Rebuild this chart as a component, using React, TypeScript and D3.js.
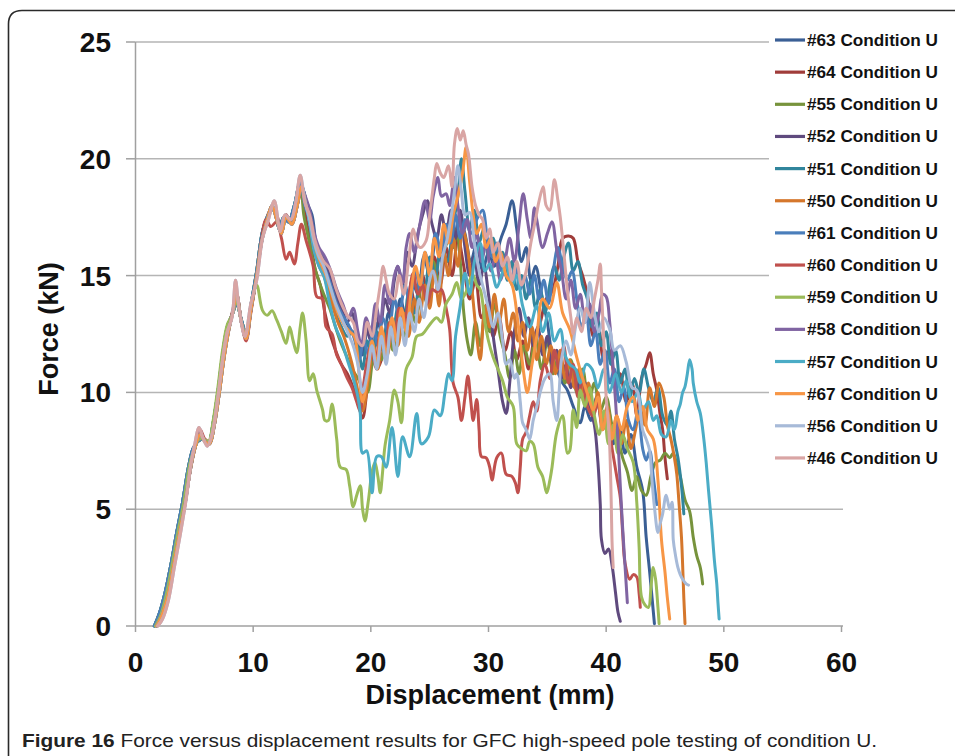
import React from 'react';
import * as d3 from 'd3';

const xTicks = [0, 10, 20, 30, 40, 50, 60];
const yTicks = [0, 5, 10, 15, 20, 25];

const seriesNames = ['#63 Condition U', '#64 Condition U', '#55 Condition U', '#52 Condition U', '#51 Condition U', '#50 Condition U', '#61 Condition U', '#60 Condition U', '#59 Condition U', '#58 Condition U', '#57 Condition U', '#67 Condition U', '#56 Condition U', '#46 Condition U'];
const seriesColors = ['#3A5F95', '#A03C3A', '#77933C', '#5F4A7E', '#31859C', '#D5772C', '#4A7EBB', '#C0504D', '#9BBB59', '#8064A2', '#4BACC6', '#F79646', '#A7BAD8', '#D9A5A4'];

const riseA = [[1.6,0],[2.0,0.5],[2.5,1.4],[3.0,2.6],[3.5,4.0],[4.0,5.3],[4.5,6.8],[4.9,7.6],[5.3,7.9],[5.8,8.0],[6.2,7.8],[6.6,8.7],[7.0,10.0],[7.4,11.6],[7.8,12.8],[8.2,13.3],[8.6,13.8],[9.0,13.1],[9.4,12.5],[9.8,13.7],[10.3,15.2],[10.8,16.9],[11.3,17.6],[11.8,17.9],[12.2,17.0],[12.6,17.5],[13.0,17.3],[13.5,18.0],[14.0,19.0]];
const riseB = [[1.9,0],[2.3,0.3],[2.8,1.1],[3.3,2.5],[3.8,3.9],[4.3,5.4],[4.7,6.9],[5.0,7.7],[5.4,8.5],[5.7,8.1],[6.1,7.7],[6.5,8.2],[7.0,9.8],[7.4,11.4],[7.8,12.6],[8.2,13.2],[8.5,14.8],[8.8,13.6],[9.3,12.4],[9.8,13.8],[10.3,14.8],[10.8,16.6],[11.3,17.4],[11.8,18.2],[12.3,16.9],[12.7,17.6],[13.2,17.4],[13.6,18.1],[14.0,19.3]];
const riseC = [[1.8,0],[2.2,0.4],[2.7,1.2],[3.2,2.5],[3.7,3.9],[4.2,5.2],[4.7,6.8],[5.1,7.7],[5.5,8.2],[5.9,7.9],[6.3,7.8],[6.7,8.6],[7.1,9.9],[7.5,11.4],[7.9,12.6],[8.3,13.5],[8.6,14.2],[9.0,13.0],[9.4,12.3],[9.8,13.5],[10.3,15.0],[10.7,16.4],[11.2,17.4],[11.6,18.0],[12.0,17.4],[12.4,16.8],[12.8,17.5],[13.3,17.2],[13.7,17.9],[14.1,18.8]];

const s63 = [...riseA, [14.5,18.2],[15.0,17.6],[15.4,16.3],[15.9,15.8],[16.4,15.1],[16.9,14.1],[17.4,13.5],[17.9,13.0],[18.4,12.6],[18.9,12.2],[19.3,11.6],[19.7,12.6],[20.2,12.0],[20.6,13.0],[21.1,12.2],[21.5,13.4],[22.0,12.6],[22.5,14.0],[23.0,13.2],[23.5,14.8],[24.0,14.2],[24.5,15.8],[25.0,15.0],[25.5,16.5],[26.0,15.6],[26.5,17.0],[27.0,16.2],[27.5,17.5],[28.0,16.8],[28.5,15.6],[29.0,16.4],[29.5,15.2],[30.0,16.0],[30.5,15.4],[31.0,16.5],[31.5,17.2],[32.0,18.2],[32.4,17.0],[32.8,15.6],[33.2,16.2],[33.6,14.8],[34.0,15.4],[34.5,14.2],[35.0,13.0],[35.4,11.6],[35.8,11.0],[36.3,10.4],[36.7,10.1],[37.2,9.4],[37.8,8.7],[38.2,9.4],[38.7,8.8],[39.2,9.8],[39.7,8.6],[40.2,9.2],[40.6,7.8],[41.1,8.6],[41.6,7.4],[42.1,8.2],[42.6,6.8],[43.1,5.8],[43.4,3.8],[43.7,2.3],[43.9,1.2],[44.1,0.1]];
const s64 = [[1.8,0],[2.2,0.4],[2.7,1.2],[3.2,2.5],[3.7,3.9],[4.2,5.2],[4.7,6.8],[5.1,7.7],[5.5,8.3],[5.9,7.9],[6.3,7.9],[6.7,8.9],[7.1,10.1],[7.5,11.5],[7.9,12.7],[8.3,13.6],[8.6,14.2],[9.0,13.0],[9.4,12.3],[9.8,13.5],[10.3,15.0],[10.7,16.4],[11.1,17.4],[11.6,17.9],[12.0,17.6],[12.4,17.0],[12.8,17.6],[13.3,17.2],[13.7,17.9],[14.1,18.6],[14.5,17.4],[14.9,16.4],[15.3,15.2],[15.7,14.6],[16.1,13.4],[16.6,12.4],[17.0,11.8],[17.5,11.2],[18.0,10.8],[18.5,10.2],[18.9,9.6],[19.3,8.9],[19.7,10.2],[20.1,11.6],[20.5,11.0],[20.9,11.4],[21.4,12.8],[21.9,12.0],[22.4,13.6],[22.9,12.8],[23.4,14.4],[23.9,13.4],[24.4,15.0],[24.9,14.0],[25.4,15.8],[25.9,14.6],[26.4,16.2],[26.9,15.0],[27.4,16.6],[27.9,15.4],[28.4,14.0],[28.9,14.8],[29.4,13.2],[29.9,13.8],[30.4,12.4],[30.9,13.2],[31.4,11.8],[31.9,12.6],[32.4,11.4],[32.9,12.2],[33.4,11.0],[33.9,12.4],[34.4,13.0],[34.9,14.0],[35.4,14.3],[35.9,15.4],[36.3,16.6],[36.8,16.7],[37.2,16.6],[37.6,15.6],[38.0,15.0],[38.4,14.2],[38.9,12.4],[39.3,13.0],[39.8,11.4],[40.3,11.8],[40.8,10.2],[41.2,10.8],[41.7,9.6],[42.2,10.4],[42.6,9.0],[43.0,10.6],[43.4,11.2],[43.7,11.7],[44.0,10.8],[44.3,10.1],[44.6,9.0],[44.8,8.4],[45.0,7.2],[45.2,6.3]];
const s55 = [...riseA, [14.3,17.6],[14.7,16.6],[15.1,15.6],[15.5,14.9],[16.0,14.2],[16.5,13.6],[17.0,12.8],[17.4,12.2],[17.9,11.6],[18.4,11.0],[18.9,10.6],[19.3,10.2],[19.7,10.0],[20.1,11.2],[20.5,12.2],[20.9,11.4],[21.4,12.6],[21.9,11.8],[22.3,13.2],[22.8,12.4],[23.3,13.8],[23.8,13.0],[24.3,14.6],[24.8,13.8],[25.3,15.6],[25.8,14.8],[26.3,16.2],[26.7,16.5],[27.0,16.2],[27.3,17.0],[27.6,15.6],[27.9,13.4],[28.2,12.2],[28.5,11.6],[28.9,13.0],[29.3,12.0],[29.7,13.4],[30.1,12.6],[30.5,13.8],[31.0,12.4],[31.4,11.6],[31.8,10.6],[32.2,11.8],[32.6,10.8],[33.0,12.0],[33.5,11.2],[34.0,12.4],[34.5,11.0],[35.0,12.2],[35.5,10.8],[36.0,11.6],[36.5,10.4],[37.0,11.4],[37.5,10.0],[38.0,11.0],[38.5,9.6],[39.0,10.4],[39.5,9.2],[40.0,9.8],[40.5,8.6],[41.0,8.0],[41.4,7.2],[41.8,6.6],[42.2,5.8],[42.6,6.4],[43.0,5.8],[43.4,5.6],[43.8,6.4],[44.2,7.0],[44.6,7.1],[45.0,7.4],[45.4,7.2],[45.7,7.4],[46.0,6.9],[46.3,6.4],[46.7,5.4],[47.1,4.9],[47.4,3.8],[47.7,3.0],[48.0,2.5],[48.2,1.8]];
const s52 = [...riseC, [14.5,18.2],[14.8,17.6],[15.2,16.6],[15.6,16.0],[16.0,15.6],[16.5,15.0],[17.0,14.2],[17.5,13.6],[18.0,13.0],[18.4,13.4],[18.8,12.4],[19.2,11.8],[19.6,12.8],[20.0,12.2],[20.4,13.4],[20.8,12.8],[21.2,14.0],[21.6,13.4],[22.0,14.8],[22.3,15.4],[22.7,14.6],[23.1,16.0],[23.5,15.4],[24.0,16.8],[24.4,17.6],[24.8,18.2],[25.2,17.2],[25.6,16.6],[26.0,17.6],[26.4,16.8],[26.8,17.8],[27.2,16.6],[27.6,17.8],[28.0,16.2],[28.4,15.0],[28.8,15.8],[29.2,14.6],[29.6,15.4],[30.0,14.2],[30.4,12.4],[30.8,11.0],[31.2,9.6],[31.5,9.1],[31.8,10.4],[32.2,12.6],[32.6,13.6],[33.0,12.4],[33.4,13.2],[33.8,12.0],[34.2,12.8],[34.6,11.6],[35.0,12.4],[35.4,11.2],[35.8,11.8],[36.2,10.6],[36.6,11.2],[37.0,10.2],[37.4,10.8],[37.8,9.8],[38.2,10.4],[38.6,9.4],[39.0,8.6],[39.3,7.0],[39.5,5.2],[39.6,3.7],[39.9,3.1],[40.2,3.3],[40.5,2.6],[40.8,1.4],[41.0,0.6],[41.2,0.2]];
const s51 = [...riseA, [14.4,18.4],[14.8,17.6],[15.2,16.2],[15.6,15.4],[16.0,15.0],[16.5,14.2],[17.0,13.4],[17.5,12.8],[18.0,12.4],[18.5,12.6],[18.9,12.0],[19.3,11.0],[19.7,12.2],[20.1,11.4],[20.5,12.6],[21.0,11.8],[21.4,13.0],[21.8,12.2],[22.3,13.6],[22.8,12.8],[23.2,14.2],[23.7,13.4],[24.2,15.0],[24.6,14.2],[25.0,15.8],[25.5,15.0],[26.0,16.4],[26.5,15.6],[27.0,17.2],[27.4,18.4],[27.7,20.0],[28.0,18.6],[28.4,17.0],[28.8,17.8],[29.2,16.4],[29.6,17.0],[30.0,15.8],[30.4,16.6],[30.8,15.4],[31.2,16.0],[31.6,14.8],[32.0,15.6],[32.4,14.4],[32.8,15.0],[33.2,14.0],[33.6,14.8],[34.0,13.6],[34.4,14.4],[34.8,13.4],[35.2,14.6],[35.6,15.4],[36.0,14.8],[36.4,15.8],[36.8,16.4],[37.2,15.2],[37.6,15.6],[38.0,14.6],[38.4,14.0],[38.8,12.8],[39.2,13.4],[39.6,12.0],[40.0,12.6],[40.4,11.2],[40.8,11.8],[41.2,10.4],[41.6,11.0],[42.0,9.8],[42.4,10.6],[42.8,10.0],[43.2,11.0],[43.6,10.2],[44.0,9.6],[44.4,10.2],[44.8,9.0],[45.2,8.6],[45.5,9.2],[45.8,8.0],[46.1,7.2],[46.4,6.0],[46.6,4.8]];
const s50 = [...riseC, [14.5,18.0],[14.9,17.2],[15.3,16.0],[15.7,15.4],[16.2,14.8],[16.7,13.8],[17.2,13.0],[17.7,12.4],[18.2,11.6],[18.6,10.8],[19.0,9.8],[19.3,9.2],[19.8,10.6],[20.2,12.0],[20.6,11.0],[21.0,12.6],[21.4,11.6],[21.9,13.0],[22.3,12.0],[22.8,13.4],[23.2,12.4],[23.7,14.0],[24.1,13.0],[24.6,14.6],[25.0,13.6],[25.4,15.2],[25.8,13.7],[26.2,16.0],[26.6,15.0],[27.0,16.6],[27.4,15.4],[27.8,17.0],[28.2,16.2],[28.6,14.4],[29.0,12.4],[29.3,11.4],[29.7,13.7],[30.1,12.8],[30.5,14.2],[30.9,13.0],[31.3,14.0],[31.7,12.6],[32.1,13.4],[32.5,12.2],[32.9,13.0],[33.3,11.8],[33.7,12.8],[34.1,11.4],[34.5,12.4],[34.9,11.2],[35.3,12.0],[35.7,10.8],[36.1,11.8],[36.5,10.6],[36.9,11.4],[37.3,10.2],[37.7,11.0],[38.1,9.6],[38.5,10.4],[38.9,9.0],[39.3,10.0],[39.7,8.6],[40.1,9.4],[40.5,8.2],[40.9,9.0],[41.3,7.8],[41.7,8.8],[42.1,7.6],[42.5,8.4],[42.9,9.4],[43.3,8.6],[43.7,10.2],[44.1,9.4],[44.5,10.4],[44.9,9.8],[45.2,8.6],[45.5,8.0],[45.8,7.2],[46.0,6.5],[46.2,5.2],[46.4,3.8],[46.5,2.6],[46.6,1.2],[46.7,0.1]];
const s61 = [...riseA, [14.4,18.0],[14.8,17.4],[15.2,16.4],[15.7,15.7],[16.1,15.3],[16.6,14.6],[17.1,13.8],[17.6,13.3],[18.1,12.9],[18.6,12.3],[19.0,11.4],[19.4,12.2],[19.8,11.6],[20.2,12.8],[20.6,12.0],[21.0,13.2],[21.5,12.6],[22.0,14.0],[22.4,13.2],[22.9,14.6],[23.3,13.8],[23.8,15.2],[24.2,14.4],[24.6,16.0],[25.0,15.2],[25.5,16.8],[26.0,16.0],[26.4,17.2],[26.8,16.4],[27.2,17.6],[27.6,16.6],[28.0,17.4],[28.5,16.8],[29.0,17.4],[29.5,17.8],[29.9,16.6],[30.3,15.8],[30.7,16.4],[31.1,15.2],[31.5,15.8],[31.9,14.8],[32.3,15.4],[32.7,14.4],[33.1,15.0],[33.5,14.2],[33.9,15.0],[34.3,14.0],[34.7,14.8],[35.1,13.8],[35.5,15.2],[35.9,16.2],[36.3,15.4],[36.7,14.8],[37.1,15.2],[37.5,14.0],[37.9,12.8],[38.3,13.4],[38.7,12.0],[39.1,12.6],[39.5,11.2],[39.9,11.8],[40.3,10.4],[40.7,11.0],[41.1,9.6],[41.5,10.2],[41.9,8.8],[42.3,8.4],[42.7,9.2],[43.1,7.6],[43.4,7.1],[43.7,7.5],[44.0,6.4],[44.3,5.2]];
const s60 = [[1.8,0],[2.2,0.4],[2.7,1.2],[3.2,2.6],[3.7,4.0],[4.2,5.3],[4.7,6.9],[5.1,7.8],[5.5,8.4],[5.9,8.0],[6.3,7.9],[6.7,8.8],[7.1,10.1],[7.5,11.6],[7.9,12.8],[8.3,13.5],[8.6,14.1],[9.0,13.0],[9.4,12.2],[9.8,13.4],[10.3,15.0],[10.7,16.5],[11.1,17.4],[11.5,17.1],[12.0,17.3],[12.4,16.6],[12.8,15.7],[13.1,16.0],[13.5,15.5],[13.8,16.4],[14.1,17.2],[14.5,16.5],[15.1,15.4],[15.4,14.1],[15.9,14.0],[16.2,12.8],[16.7,12.5],[17.1,11.6],[17.5,11.2],[18.0,10.6],[18.4,10.2],[18.8,9.6],[19.1,9.2],[19.4,10.4],[19.7,11.4],[20.0,12.0],[20.4,11.2],[20.8,12.6],[21.2,11.8],[21.6,13.0],[22.0,12.4],[22.4,13.6],[22.8,12.8],[23.2,14.0],[23.6,15.1],[24.0,14.2],[24.4,14.6],[24.8,13.8],[25.2,14.4],[25.6,14.3],[26.0,14.4],[26.4,13.6],[26.7,12.7],[27.0,10.4],[27.4,9.8],[27.7,8.8],[28.0,9.8],[28.25,10.7],[28.5,9.6],[28.7,8.8],[29.0,9.7],[29.2,8.4],[29.4,7.25],[29.8,7.2],[30.1,6.8],[30.3,6.25],[30.7,7.2],[31.1,7.4],[31.5,6.5],[32.0,6.4],[32.3,6.1],[32.5,5.7],[32.7,6.8],[32.9,8.0],[33.2,8.3],[33.5,9.0],[33.8,9.6],[34.1,9.2],[34.4,10.5],[34.8,11.2],[35.2,10.6],[35.6,11.8],[36.0,11.0],[36.4,12.0],[36.8,10.4],[37.2,11.2],[37.6,9.8],[38.0,10.6],[38.4,9.4],[38.9,9.0],[39.3,9.6],[39.7,8.4],[40.1,8.8],[40.5,7.6],[40.9,6.4],[41.2,5.5],[41.4,4.0],[41.6,2.7],[42.0,2.0],[42.3,2.2],[42.6,2.1],[42.8,1.4],[42.9,0.8]];
const s59 = [[1.7,0],[2.1,0.4],[2.6,1.3],[3.1,2.6],[3.6,4.0],[4.1,5.3],[4.6,6.9],[5.0,7.6],[5.4,8.0],[5.8,8.0],[6.2,7.9],[6.6,8.8],[7.0,10.2],[7.4,11.8],[7.8,12.9],[8.2,13.3],[8.6,13.9],[9.0,13.0],[9.4,12.4],[9.8,13.6],[10.3,14.6],[10.8,13.5],[11.2,13.3],[11.6,13.5],[12.0,13.1],[12.4,12.6],[12.8,12.1],[13.1,12.8],[13.4,12.2],[13.7,11.7],[14.0,12.8],[14.2,13.4],[14.5,12.2],[14.8,10.5],[15.1,10.8],[15.4,10.1],[15.9,9.25],[16.1,8.8],[16.4,8.8],[16.7,9.5],[17.1,8.0],[17.4,6.8],[17.9,6.7],[18.2,6.0],[18.5,5.1],[18.8,5.6],[19.1,6.0],[19.3,5.0],[19.5,4.5],[19.8,5.4],[20.1,6.6],[20.35,7.0],[20.6,6.4],[20.8,5.7],[21.0,6.6],[21.2,7.7],[21.6,8.8],[22.0,10.1],[22.3,9.6],[22.6,8.7],[23.0,11.0],[23.5,11.5],[23.9,12.4],[24.4,12.5],[25.0,12.9],[25.6,13.2],[26.0,13.0],[26.4,13.8],[26.9,14.2],[27.3,14.7],[27.7,14.0],[28.1,14.3],[28.4,14.8],[28.7,15.0],[29.0,14.6],[29.3,14.4],[29.7,13.0],[30.0,12.2],[30.4,11.5],[30.8,11.0],[31.2,10.5],[31.6,9.8],[32.1,9.4],[32.4,7.8],[32.8,7.6],[33.2,7.5],[33.5,7.9],[33.8,7.8],[34.2,6.8],[34.6,6.4],[34.95,5.7],[35.2,6.2],[35.4,6.8],[35.8,8.3],[36.3,9.0],[36.7,7.4],[36.9,7.5],[37.2,9.25],[37.5,8.5],[37.8,10.1],[38.2,9.4],[38.6,10.2],[39.0,9.0],[39.4,8.2],[39.8,9.2],[40.2,7.8],[40.6,8.6],[41.0,7.4],[41.4,8.2],[41.8,7.6],[42.3,7.0],[42.6,5.3],[42.8,3.4],[43.0,1.25],[43.3,0.9],[43.6,0.8],[43.8,1.6],[44.0,2.5],[44.2,2.0],[44.4,0.8],[44.5,0.1]];
const s58 = [...riseC, [14.5,18.3],[14.8,17.8],[15.2,16.8],[15.6,16.2],[16.1,15.8],[16.6,15.2],[17.1,14.4],[17.6,13.8],[18.1,13.2],[18.5,13.6],[18.9,12.6],[19.2,12.0],[19.6,13.2],[20.0,12.6],[20.4,13.8],[20.8,13.0],[21.2,14.6],[21.6,13.8],[22.0,15.0],[22.3,15.4],[22.7,14.7],[23.0,16.2],[23.3,16.8],[23.7,16.0],[24.1,17.0],[24.6,18.2],[25.0,17.4],[25.3,18.4],[25.7,19.2],[26.0,18.4],[26.4,18.5],[26.7,18.0],[27.1,19.2],[27.4,18.0],[27.8,16.8],[28.2,17.4],[28.6,16.2],[29.0,16.8],[29.4,15.6],[29.8,16.4],[30.2,15.2],[30.6,15.8],[31.0,14.8],[31.4,15.6],[31.8,16.6],[32.2,15.6],[32.6,17.2],[32.95,18.5],[33.3,17.4],[33.6,16.6],[33.9,17.9],[34.1,17.4],[34.6,16.2],[35.0,16.8],[35.4,17.3],[35.8,16.1],[36.2,15.2],[36.6,14.0],[37.0,14.8],[37.4,13.6],[37.8,14.2],[38.2,13.0],[38.6,13.8],[39.0,12.6],[39.4,13.4],[39.7,14.2],[40.0,14.1],[40.3,13.0],[40.6,11.0],[40.8,9.6],[41.0,8.0],[41.2,6.0],[41.4,4.2],[41.6,2.6],[41.8,1.0]];
const s57 = [...riseC, [14.5,18.0],[14.8,17.2],[15.2,16.0],[15.6,15.4],[16.0,15.0],[16.5,13.8],[17.0,12.8],[17.5,12.2],[18.0,11.4],[18.5,10.6],[18.9,9.8],[19.1,9.1],[19.3,7.4],[19.65,7.5],[20.1,5.7],[20.5,7.25],[20.9,7.25],[21.3,6.8],[21.8,8.5],[22.3,6.4],[22.7,8.1],[23.3,7.25],[23.9,9.1],[24.3,7.8],[24.9,8.1],[25.4,9.25],[25.9,9.0],[26.3,10.0],[26.6,10.8],[26.9,10.5],[27.2,12.4],[27.6,13.7],[28.0,15.1],[28.4,14.2],[28.8,15.6],[29.3,16.4],[29.7,15.2],[30.1,15.5],[30.7,14.5],[31.1,15.0],[31.5,15.5],[32.0,14.6],[32.4,15.0],[32.9,13.7],[33.5,12.8],[34.1,13.7],[34.6,12.6],[35.1,13.4],[35.6,12.2],[36.1,12.7],[36.5,11.6],[36.9,11.2],[37.4,11.0],[37.8,10.4],[38.3,11.2],[38.8,11.0],[39.3,10.2],[39.8,11.0],[40.3,10.0],[40.8,10.8],[41.3,10.0],[41.7,10.5],[42.2,9.6],[42.7,10.0],[43.1,9.25],[43.6,9.6],[44.0,8.8],[44.3,9.0],[44.7,8.2],[45.1,8.1],[45.5,8.8],[45.8,8.4],[46.1,9.2],[46.3,9.5],[46.5,10.0],[46.7,10.25],[46.9,10.8],[47.1,11.4],[47.3,11.0],[47.4,10.4],[47.7,9.6],[48.0,9.1],[48.3,8.0],[48.5,7.0],[48.7,5.8],[48.95,4.4],[49.2,2.8],[49.4,1.8],[49.5,1.0],[49.6,0.3]];
const s67 = [...riseC, [14.5,18.0],[14.9,17.3],[15.3,16.2],[15.7,15.6],[16.2,15.0],[16.7,14.2],[17.2,13.4],[17.7,12.9],[18.2,12.6],[18.6,12.4],[19.0,10.8],[19.3,9.6],[19.7,10.6],[20.1,12.2],[20.5,11.2],[20.9,12.8],[21.3,11.6],[21.8,13.2],[22.2,12.2],[22.6,13.6],[23.0,12.6],[23.4,14.2],[23.8,15.4],[24.2,14.6],[24.6,16.0],[25.0,15.0],[25.4,16.6],[25.8,15.8],[26.2,17.2],[26.6,16.4],[27.0,17.6],[27.4,18.4],[27.8,19.4],[28.1,20.5],[28.4,19.0],[28.7,17.6],[29.0,16.8],[29.4,17.2],[29.8,16.2],[30.2,16.6],[30.6,15.6],[31.0,16.0],[31.5,15.0],[32.0,14.6],[32.5,13.0],[33.0,10.8],[33.3,10.0],[33.7,11.2],[34.1,12.4],[34.6,14.0],[35.2,13.6],[35.8,14.7],[36.3,13.4],[36.9,12.7],[37.5,11.5],[38.0,10.6],[38.5,9.8],[38.9,9.25],[39.3,9.8],[39.7,8.4],[40.1,9.2],[40.5,8.0],[40.9,9.0],[41.3,8.4],[41.8,9.4],[42.3,9.8],[42.7,8.8],[43.1,9.4],[43.5,8.4],[44.0,8.0],[44.4,6.25],[44.7,3.7],[45.0,2.3],[45.2,1.2],[45.4,0.3]];
const s56 = [...riseB, [14.4,18.2],[14.8,17.4],[15.2,16.4],[15.6,15.8],[16.0,15.4],[16.5,14.6],[17.0,13.8],[17.5,13.2],[18.0,12.6],[18.5,12.0],[18.9,11.2],[19.3,10.0],[19.7,10.8],[20.1,12.0],[20.5,11.0],[20.9,12.4],[21.3,11.2],[21.7,12.8],[22.1,11.6],[22.5,13.2],[22.9,12.0],[23.3,13.4],[23.7,12.6],[24.1,14.0],[24.5,13.2],[24.9,14.6],[25.3,15.2],[25.7,14.4],[26.1,15.8],[26.5,16.6],[26.9,17.8],[27.2,19.0],[27.4,19.7],[27.7,18.6],[28.0,17.6],[28.4,17.7],[28.8,16.4],[29.2,15.2],[29.6,14.4],[30.0,13.6],[30.4,12.8],[30.8,13.4],[31.2,12.2],[31.5,11.2],[31.8,11.4],[32.2,10.6],[32.4,10.8],[32.7,9.6],[32.9,8.7],[33.2,8.4],[33.5,8.0],[33.8,8.8],[34.1,9.4],[34.5,10.2],[34.8,10.6],[35.2,10.8],[35.5,9.6],[35.8,8.8],[36.0,10.0],[36.2,11.4],[36.6,12.2],[37.0,11.6],[37.4,12.8],[37.8,13.6],[38.2,13.0],[38.6,14.7],[39.0,13.4],[39.4,12.6],[39.8,13.2],[40.3,12.7],[40.7,11.8],[41.2,12.0],[41.7,11.3],[42.2,10.2],[42.6,10.1],[43.1,8.4],[43.4,8.0],[43.7,7.5],[43.9,6.2],[44.1,5.1],[44.4,4.0],[44.6,4.4],[44.8,4.8],[45.1,5.6],[45.4,5.0],[45.6,5.3],[45.7,3.7],[45.9,3.0],[46.1,2.5],[46.3,2.2],[46.5,2.0],[46.8,1.8],[47.0,1.75]];
const s46 = [...riseB, [14.4,18.1],[14.8,17.6],[15.2,16.6],[15.6,16.0],[16.0,15.6],[16.5,15.3],[17.0,14.5],[17.5,13.8],[18.0,13.3],[18.5,13.0],[18.9,12.2],[19.3,12.0],[19.7,13.0],[20.1,12.4],[20.5,13.6],[20.8,14.6],[21.05,15.4],[21.3,14.8],[21.6,14.2],[22.0,14.0],[22.4,15.0],[22.8,14.2],[23.2,15.6],[23.6,17.0],[23.9,16.4],[24.2,16.2],[24.7,16.5],[25.0,17.6],[25.2,18.4],[25.4,19.2],[25.6,19.8],[25.9,19.4],[26.2,19.2],[26.6,19.7],[26.9,18.8],[27.1,20.6],[27.35,21.3],[27.6,20.8],[27.85,21.2],[28.1,20.6],[28.3,20.2],[28.6,18.8],[28.9,18.0],[29.2,17.6],[29.5,17.4],[29.8,16.6],[30.1,17.0],[30.4,16.0],[30.8,16.4],[31.2,15.4],[31.6,15.8],[32.0,14.8],[32.4,15.6],[32.8,14.6],[33.2,15.2],[33.6,16.4],[34.0,17.4],[34.3,18.2],[34.65,18.8],[34.9,18.0],[35.2,17.8],[35.6,19.1],[35.9,18.2],[36.1,17.5],[36.4,16.0],[36.7,14.4],[37.0,13.2],[37.2,12.5],[37.5,13.2],[37.9,12.6],[38.3,13.6],[38.7,13.2],[39.0,14.0],[39.3,14.8],[39.5,15.5],[39.6,14.4],[39.8,12.2],[40.0,9.8],[40.2,8.6],[40.3,7.7],[40.4,6.0],[40.45,4.8],[40.5,3.6],[40.6,2.5]];

const seriesData = [s63, s64, s55, s52, s51, s50, s61, s60, s59, s58, s57, s67, s56, s46];

const FONT = "'Liberation Sans', Arial, Helvetica, sans-serif";

export default function App() {
  const x = d3.scaleLinear().domain([0, 60]).range([135.5, 841.5]);
  const y = d3.scaleLinear().domain([0, 25]).range([626, 42]);
  const line = d3.line<number[]>()
    .x((d) => x(d[0]))
    .y((d) => y(d[1]))
    .curve(d3.curveCatmullRom.alpha(0.5));

  const legendY = (i: number) => 40 + i * 32.15;

  return (
    <svg width={955} height={756} viewBox="0 0 955 756"
      style={{ position: 'absolute', left: 0, top: 0, display: 'block' }}
      fontFamily={FONT}>
      <rect x={0} y={0} width={955} height={756} fill="#ffffff" />
      <path d="M8.5,760 L8.5,24 Q8.5,10.5 22,10.5 L960,10.5" fill="none" stroke="#2a2a2a" strokeWidth={1.6} />

      {yTicks.filter((t) => t > 0).map((t) => (
        <line key={'g' + t} x1={x(0)} x2={843} y1={y(t)} y2={y(t)} stroke="#b5b5b5" strokeWidth={1.5} />
      ))}
      {yTicks.map((t) => (
        <line key={'yt' + t} x1={126} x2={x(0)} y1={y(t)} y2={y(t)} stroke="#a0a0a0" strokeWidth={1.5} />
      ))}
      {xTicks.map((t) => (
        <line key={'xt' + t} x1={x(t)} x2={x(t)} y1={y(0)} y2={y(0) + 6} stroke="#a0a0a0" strokeWidth={1.5} />
      ))}
      <line x1={x(0)} x2={x(0)} y1={y(25)} y2={y(0)} stroke="#a0a0a0" strokeWidth={1.5} />
      <line x1={x(0)} x2={843} y1={y(0)} y2={y(0)} stroke="#a0a0a0" strokeWidth={1.5} />

      <g fill="none" strokeWidth={3} strokeLinejoin="round" strokeLinecap="round">
        {seriesData.map((s, i) => (
          <path key={'s' + i} d={line(s as number[][]) || ''} stroke={seriesColors[i]} />
        ))}
      </g>

      <rect x={769} y={24} width={186} height={452} fill="#ffffff" />
      {seriesNames.map((n, i) => (
        <g key={'l' + i}>
          <line x1={775} x2={805} y1={legendY(i)} y2={legendY(i)} stroke={seriesColors[i]} strokeWidth={3.2} />
          <text x={807} y={legendY(i) + 6} fontSize={17.2} fontWeight="bold" fill="#111">{n}</text>
        </g>
      ))}

      {yTicks.map((t) => (
        <text key={'yl' + t} x={111} y={y(t) + 10} textAnchor="end" fontSize={28} fontWeight="bold" fill="#111">{t}</text>
      ))}
      {xTicks.map((t) => (
        <text key={'xl' + t} x={x(t)} y={672} textAnchor="middle" fontSize={28} fontWeight="bold" fill="#111">{t}</text>
      ))}
      <text x={490} y={704} textAnchor="middle" fontSize={27} fontWeight="bold" fill="#111">Displacement (mm)</text>
      <text transform="translate(58,329) rotate(-90)" textAnchor="middle" fontSize={27} fontWeight="bold" fill="#111">Force (kN)</text>

      <text x={22} y={747} fontSize={19} fill="#222" textLength={855} lengthAdjust="spacingAndGlyphs">
        <tspan fontWeight="bold">Figure 16</tspan>
        <tspan> Force versus displacement results for GFC high-speed pole testing of condition U.</tspan>
      </text>
    </svg>
  );
}
